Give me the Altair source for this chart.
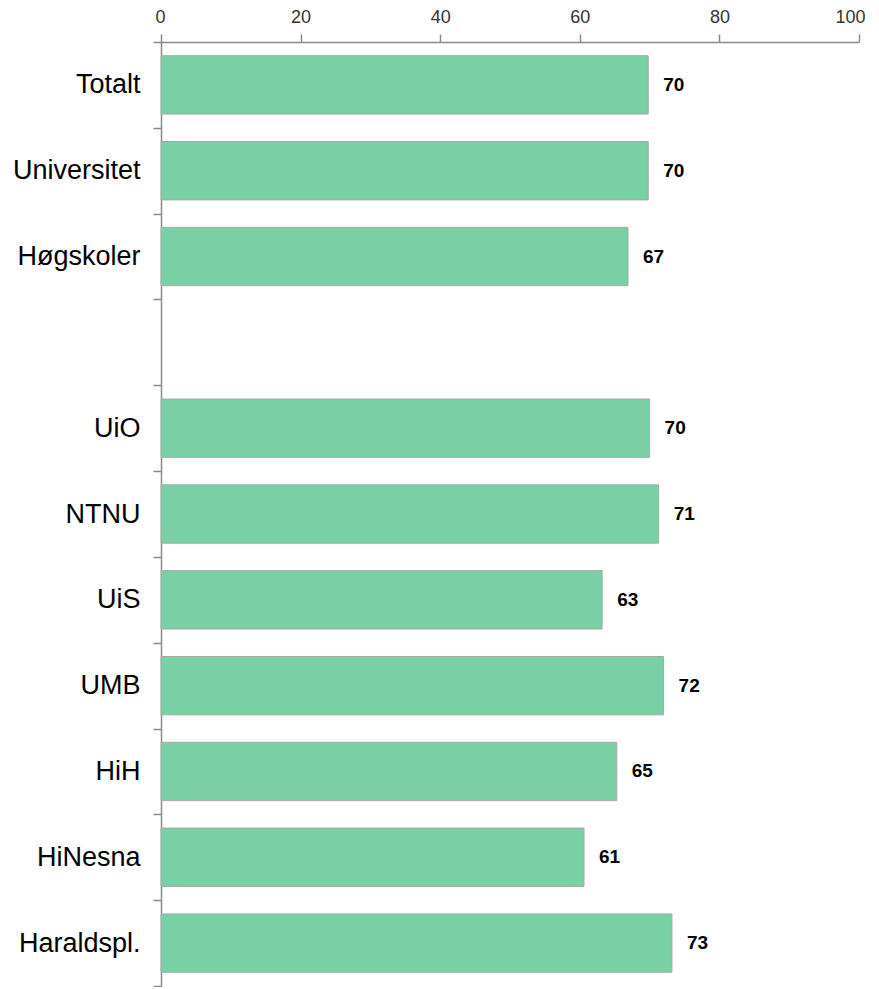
import altair as alt
import pandas as pd

categories = ["Totalt", "Universitet", "Høgskoler", " ", "UiO", "NTNU", "UiS",
              "UMB", "HiH", "HiNesna", "Haraldspl."]
bar_names = ["Totalt", "Universitet", "Høgskoler", "UiO", "NTNU", "UiS",
             "UMB", "HiH", "HiNesna", "Haraldspl."]
values = [69.8, 69.8, 66.9, 70.0, 71.3, 63.2, 72.0, 65.3, 60.6, 73.2]
labels = ["70", "70", "67", "70", "71", "63", "72", "65", "61", "73"]
x_ticks = [0, 20, 40, 60, 80, 100]

df = pd.DataFrame({"cat": bar_names, "val": values, "lab": labels})

y_enc = alt.Y(
    "cat:N",
    scale=alt.Scale(domain=categories, paddingInner=0, paddingOuter=0),
    axis=alt.Axis(
        title=None,
        orient="left",
        tickBand="extent",
        tickSize=8,
        tickColor="#8a8a8a",
        tickWidth=1.5,
        domainColor="#8a8a8a",
        domainWidth=1.5,
        labelFont="Liberation Sans",
        labelFontSize=27,
        labelColor="#000000",
        labelPadding=13,
        grid=False,
    ),
)

x_enc = alt.X(
    "val:Q",
    scale=alt.Scale(domain=[0, 100], nice=False),
    axis=alt.Axis(
        title=None,
        orient="top",
        values=x_ticks,
        tickSize=8,
        tickColor="#8a8a8a",
        tickWidth=1.5,
        domainColor="#8a8a8a",
        domainWidth=1.5,
        labelFont="Liberation Sans",
        labelFontSize=18,
        labelColor="#333333",
        labelPadding=8,
        labelFlush=True,
        labelFlushOffset=6,
        grid=False,
    ),
)

bars = alt.Chart(df).mark_bar(
    color="#77D1A5", stroke="#a8a8a8", strokeWidth=1,
    height=alt.RelativeBandSize(0.68),
).encode(x=x_enc, y=y_enc)

text = alt.Chart(df).mark_text(
    align="left", baseline="middle", dx=15, font="Liberation Sans",
    fontSize=19, fontWeight="bold", color="#000000"
).encode(x="val:Q", y=alt.Y("cat:N"), text="lab:N")

chart = (bars + text).properties(
    width=698, height=944,
    padding={"left": 4, "top": 0, "right": 0, "bottom": 0},
    background="white",
).configure_view(stroke=None)

chart.save("out.html", embed_options={"renderer": "svg", "actions": False})
